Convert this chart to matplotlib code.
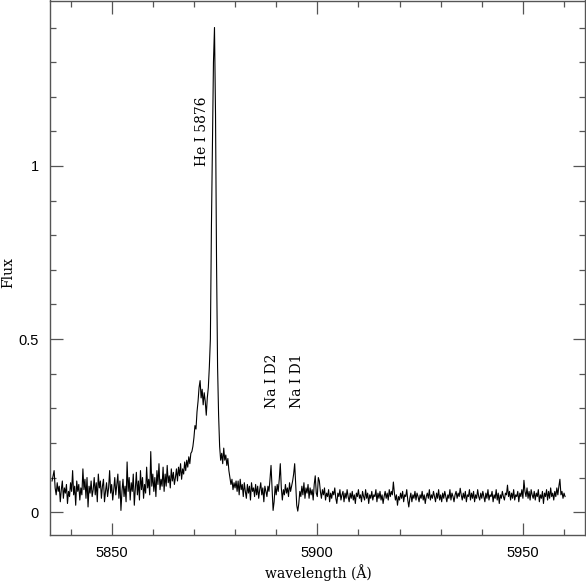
import numpy as np
import matplotlib
matplotlib.use("Agg")
import matplotlib.pyplot as plt
from matplotlib.ticker import MultipleLocator, FuncFormatter

STEP = 0.25

# Segment A: blue continuum, starts at 5835.5 A
start_a = 5835.5
flux_a = [0.09, 0.105, 0.12, 0.07, 0.05, 0.085, 0.06, 0.075, 0.03, 0.065,
          0.09, 0.04, 0.07, 0.055, 0.08, 0.025, 0.06, 0.045, 0.085, 0.06,
          0.12, 0.05, 0.075, 0.02, 0.09, 0.06, 0.08, 0.035, 0.07, 0.05,
          0.125, 0.065, 0.095, 0.04, 0.10, 0.015, 0.075, 0.055, 0.09, 0.045,
          0.065, 0.10, 0.05, 0.085, 0.03, 0.11, 0.07, 0.09, 0.04, 0.075,
          0.095, 0.03, 0.06, 0.085, 0.045, 0.07, 0.12, 0.055, 0.08, 0.035,
          0.065, 0.10, 0.05, 0.08, 0.11, 0.04, 0.09, 0.005, 0.06, 0.095,
          0.045, 0.075, 0.03, 0.145, 0.06, 0.10, 0.035, 0.085, 0.06, 0.11,
          0.02, 0.07, 0.115, 0.05, 0.09, 0.035, 0.12, 0.065, 0.10, 0.04,
          0.08, 0.055, 0.13, 0.07, 0.095, 0.05, 0.175, 0.075, 0.11, 0.06,
          0.10, 0.045, 0.12, 0.08, 0.14, 0.065, 0.095, 0.075, 0.13, 0.06,
          0.11, 0.075, 0.135, 0.085, 0.105, 0.07, 0.125, 0.09, 0.115, 0.08]

# Segment B: He I 5876 emission line, starts at 5865.5 A
start_b = 5865.5
flux_b = [0.10, 0.125, 0.09, 0.13, 0.105, 0.14, 0.095, 0.125,
          0.11, 0.145, 0.12, 0.15, 0.13, 0.16, 0.14, 0.17,
          0.175, 0.19, 0.215, 0.25, 0.24, 0.29, 0.32, 0.36,
          0.38, 0.33, 0.355, 0.31, 0.345, 0.32, 0.28, 0.33,
          0.36, 0.42, 0.50, 0.82, 1.05, 1.30, 1.40, 1.15,
          0.72, 0.42, 0.28, 0.19, 0.15, 0.17, 0.14, 0.185,
          0.15, 0.165, 0.135, 0.155, 0.12, 0.10, 0.08, 0.095,
          0.065, 0.085, 0.07, 0.09]

# Segment C: Na I D region, starts at 5880.5 A
start_c = 5880.5
flux_c = [0.06, 0.09, 0.05, 0.095, 0.065, 0.08, 0.045, 0.085, 0.06, 0.04,
          0.08, 0.055, 0.075, 0.035, 0.085, 0.06, 0.07, 0.045, 0.08, 0.05,
          0.075, 0.04, 0.065, 0.085, 0.05, 0.07, 0.03, 0.075, 0.06, 0.045,
          0.075, 0.06, 0.095, 0.135, 0.07, 0.005, 0.03, 0.075, 0.05, 0.08,
          0.06, 0.095, 0.14, 0.07, 0.035, 0.065, 0.05, 0.08, 0.055, 0.07,
          0.045, 0.085, 0.06, 0.075, 0.09, 0.11, 0.14, 0.08, 0.02, 0.003,
          0.025, 0.06, 0.045, 0.075, 0.05, 0.085, 0.04, 0.07, 0.055, 0.08,
          0.04, 0.07, 0.05, 0.065, 0.035, 0.08, 0.105, 0.055, 0.045, 0.10]

# Segment D: red continuum, starts at 5900.5 A
start_d = 5900.5
flux_d = [0.09, 0.06, 0.04, 0.065, 0.05, 0.07, 0.035, 0.055, 0.045, 0.065,
          0.03, 0.055, 0.04, 0.06, 0.05, 0.07, 0.04, 0.025, 0.055, 0.045,
          0.065, 0.035, 0.05, 0.06, 0.03, 0.055, 0.04, 0.065, 0.045, 0.03,
          0.055, 0.04, 0.06, 0.035, 0.05, 0.025, 0.055, 0.045, 0.065, 0.04,
          0.05, 0.03, 0.06, 0.045, 0.035, 0.065, 0.04, 0.055, 0.025, 0.05,
          0.04, 0.06, 0.035, 0.05, 0.045, 0.065, 0.03, 0.055, 0.04, 0.06,
          0.035, 0.05, 0.025, 0.045, 0.06, 0.04, 0.055, 0.035, 0.065, 0.045,
          0.06, 0.05, 0.087, 0.055, 0.035, 0.05, 0.02, 0.045, 0.035, 0.055,
          0.04, 0.06, 0.03, 0.05, 0.045, 0.065, 0.035, 0.015, 0.04, 0.055,
          0.03, 0.05, 0.04, 0.06, 0.035, 0.055, 0.045, 0.03, 0.05, 0.04,
          0.06, 0.035, 0.05, 0.025, 0.045, 0.055, 0.04, 0.065, 0.035, 0.05,
          0.04, 0.06, 0.045, 0.03, 0.055, 0.04, 0.065, 0.035, 0.05, 0.03,
          0.055, 0.04, 0.06, 0.045, 0.03, 0.05, 0.04, 0.065, 0.035, 0.055,
          0.045, 0.03, 0.05, 0.06, 0.04, 0.055, 0.045, 0.069, 0.05, 0.035,
          0.055, 0.04, 0.06, 0.03, 0.05, 0.045, 0.065, 0.035, 0.055, 0.04,
          0.06, 0.03, 0.05, 0.04, 0.065, 0.045, 0.035, 0.055, 0.04, 0.06,
          0.045, 0.03, 0.055, 0.04, 0.065, 0.035, 0.05, 0.045, 0.06, 0.03,
          0.05, 0.04, 0.065, 0.035, 0.055, 0.025, 0.05, 0.04, 0.06, 0.045,
          0.035, 0.055, 0.05, 0.078, 0.045, 0.06, 0.035, 0.055, 0.04, 0.065,
          0.035, 0.05, 0.045, 0.06, 0.03, 0.055, 0.045, 0.065, 0.04, 0.092,
          0.06, 0.045, 0.07, 0.04, 0.06, 0.035, 0.065, 0.05, 0.04, 0.06,
          0.035, 0.055, 0.045, 0.065, 0.03, 0.05, 0.04, 0.06, 0.025, 0.055,
          0.045, 0.065, 0.035, 0.06, 0.04, 0.07, 0.045, 0.055, 0.035, 0.06,
          0.045, 0.07, 0.05, 0.075, 0.095, 0.05, 0.06, 0.04, 0.055, 0.045]

segments = [(start_a, flux_a), (start_b, flux_b), (start_c, flux_c), (start_d, flux_d)]

line_labels = ["He I 5876", "Na I D2", "Na I D1"]
line_label_x = [5871.9, 5888.9, 5895.0]
line_label_y = [1.0, 0.30, 0.30]

wl = np.concatenate([s + STEP * np.arange(len(f)) for s, f in segments])
flux = np.concatenate([np.array(f) for s, f in segments])

fig = plt.figure(figsize=(5.86, 5.82), dpi=100)
ax = fig.add_axes([50 / 586, 1 - 535 / 582, 535 / 586, 534.5 / 582])

ax.plot(wl, flux, color="black", lw=0.8)

ax.set_xlim(5835.0, 5965.1)
ax.set_ylim(-0.066, 1.478)

ax.xaxis.set_major_locator(MultipleLocator(50))
ax.xaxis.set_minor_locator(MultipleLocator(10))
ax.yaxis.set_major_locator(MultipleLocator(0.5))
ax.yaxis.set_minor_locator(MultipleLocator(0.1))
ax.yaxis.set_major_formatter(FuncFormatter(lambda v, p: f"{v:g}"))

ax.tick_params(which="both", direction="in", top=True, right=True, color="#555555", width=0.9)
ax.tick_params(which="major", length=9, pad=8)
ax.tick_params(which="minor", length=4.5)
for lab in ax.get_xticklabels() + ax.get_yticklabels():
    lab.set_fontfamily("Liberation Sans")
    lab.set_fontsize(10.5)
for sp in ax.spines.values():
    sp.set_color("#555555")
    sp.set_linewidth(1.0)

fig.text(318 / 586, 1 - 573 / 582, "wavelength (Å)", ha="center", va="center",
         fontfamily="DejaVu Serif", fontsize=10)
fig.text(8 / 586, 1 - 272 / 582, "Flux", ha="center", va="center", rotation=90,
         fontfamily="DejaVu Serif", fontsize=10)

for t, x, y in zip(line_labels, line_label_x, line_label_y):
    ax.text(x, y, t, rotation=90, ha="center", va="bottom",
            fontfamily="DejaVu Serif", fontsize=10)

fig.savefig("out.png", dpi=100)
